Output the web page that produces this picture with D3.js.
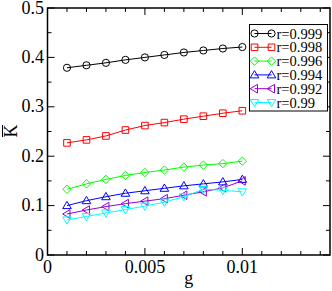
<!DOCTYPE html>
<html>
<head>
<meta charset="utf-8">
<script src="https://cdn.jsdelivr.net/npm/d3@7"></script>
<style>
  body { margin: 0; background: #fff; }
  svg text { font-family: "Liberation Serif", "Times New Roman", serif; }
</style>
</head>
<body>
<div id="chart"></div>
<script>
const width = 332, height = 291;

// data
const gValues = [0.001, 0.002, 0.003, 0.004, 0.005, 0.006, 0.007, 0.008, 0.009, 0.01];
const seriesNames = ["r=0.999", "r=0.998", "r=0.996", "r=0.994", "r=0.992", "r=0.99"];
const k999 = [0.379, 0.384, 0.389, 0.395, 0.400, 0.405, 0.410, 0.414, 0.418, 0.421];
const k998 = [0.227, 0.233, 0.241, 0.253, 0.262, 0.268, 0.275, 0.281, 0.287, 0.292];
const k996 = [0.133, 0.144, 0.153, 0.161, 0.167, 0.172, 0.178, 0.182, 0.185, 0.190];
const k994 = [0.100, 0.110, 0.118, 0.125, 0.130, 0.135, 0.140, 0.144, 0.148, 0.153];
const k992 = [0.083, 0.091, 0.098, 0.104, 0.109, 0.114, 0.121, 0.128, 0.136, 0.150];
const k990 = [0.071, 0.078, 0.085, 0.092, 0.099, 0.107, 0.118, 0.133, 0.131, 0.128];
const xTicks = [0, 0.005, 0.01];
const xTickLabels = ["0", "0.005", "0.01"];
const yTicks = [0, 0.1, 0.2, 0.3, 0.4, 0.5];
const yTickLabels = ["0", "0.1", "0.2", "0.3", "0.4", "0.5"];

const allSeries = [k999, k998, k996, k994, k992, k990];
const colors = ["#000000", "#ff0000", "#00ff00", "#0000ff", "#9400d3", "#00ffff"];
const shapes = ["circle", "square", "diamond", "up", "left", "down"];

const x0 = 47.5, x1 = 330, y0 = 255, y1 = 8;

const x = d3.scaleLinear().domain([0, 0.0145]).range([x0, x1]);
const y = d3.scaleLinear().domain([0, 0.5]).range([y0, y1]);

const svg = d3.select("#chart").append("svg")
  .attr("width", width)
  .attr("height", height);

// marker shapes
function marker(shape) {
  switch (shape) {
    case "circle": return d3.symbol().type(d3.symbolCircle).size(Math.PI * 3.6 * 3.6)();
    case "square": return "M-3.3,-3.3H3.3V3.3H-3.3Z";
    case "diamond": return "M0,-4.2L4.2,0L0,4.2L-4.2,0Z";
    case "up": return "M0,-4.3L4.3,3L-4.3,3Z";
    case "down": return "M0,4.3L4.3,-3L-4.3,-3Z";
    case "left": return "M-4.3,0L3,-4.3L3,4.3Z";
  }
}

// data lines + markers
const line = d3.line().x((d, i) => x(gValues[i])).y(d => y(d));

allSeries.forEach((vals, si) => {
  const g = svg.append("g");
  g.append("path")
    .attr("d", line(vals))
    .attr("fill", "none")
    .attr("stroke", colors[si])
    .attr("stroke-width", 1);
  g.selectAll("path.pt")
    .data(vals)
    .enter()
    .append("path")
    .attr("class", "pt")
    .attr("transform", (d, i) => `translate(${x(gValues[i])},${y(d)})`)
    .attr("d", marker(shapes[si]))
    .attr("fill", "none")
    .attr("stroke", colors[si])
    .attr("stroke-width", 1);
});

// frame
svg.append("rect")
  .attr("x", x0).attr("y", y1)
  .attr("width", x1 - x0).attr("height", y0 - y1)
  .attr("fill", "none")
  .attr("stroke", "#000")
  .attr("stroke-width", 1.5);

// ticks (inward, all four sides)
const xMinor = d3.range(0, 0.01451, 0.001);
const yMinor = d3.range(0, 0.501, 0.05);
const ticks = svg.append("g").attr("stroke", "#000").attr("stroke-width", 1);

xMinor.forEach((v, i) => {
  const len = (i % 5 === 0) ? 7 : 4;
  const px = x(v);
  ticks.append("line").attr("x1", px).attr("x2", px).attr("y1", y0).attr("y2", y0 - len);
  ticks.append("line").attr("x1", px).attr("x2", px).attr("y1", y1).attr("y2", y1 + len);
});
yMinor.forEach((v, i) => {
  const len = (i % 2 === 0) ? 7 : 4;
  const py = y(v);
  ticks.append("line").attr("x1", x0).attr("x2", x0 + len).attr("y1", py).attr("y2", py);
  ticks.append("line").attr("x1", x1).attr("x2", x1 - len).attr("y1", py).attr("y2", py);
});

// tick labels
svg.selectAll("text.xt")
  .data(xTicks)
  .enter()
  .append("text")
  .attr("class", "xt")
  .attr("x", d => x(d))
  .attr("y", 273)
  .attr("text-anchor", "middle")
  .attr("font-size", 18)
  .text((d, i) => xTickLabels[i]);

svg.selectAll("text.yt")
  .data(yTicks)
  .enter()
  .append("text")
  .attr("class", "yt")
  .attr("x", 44)
  .attr("y", d => y(d) + 5.5)
  .attr("text-anchor", "end")
  .attr("font-size", 18)
  .text((d, i) => yTickLabels[i]);

// axis labels
svg.append("text")
  .attr("x", (x0 + x1) / 2)
  .attr("y", 284)
  .attr("text-anchor", "middle")
  .attr("font-size", 18)
  .text("g");

const yl = svg.append("g").attr("transform", "translate(17,131) rotate(-90)");
yl.append("text")
  .attr("x", 0).attr("y", 0)
  .attr("text-anchor", "middle")
  .attr("font-size", 18)
  .text("K");
yl.append("line")
  .attr("x1", -6).attr("x2", 6)
  .attr("y1", -14.5).attr("y2", -14.5)
  .attr("stroke", "#000").attr("stroke-width", 1);

// legend
const lx = 249.5, ly = 24.5, lw = 78, lh = 86.5, rowH = 13.8;
svg.append("rect")
  .attr("x", lx).attr("y", ly)
  .attr("width", lw).attr("height", lh)
  .attr("fill", "#fff")
  .attr("stroke", "#000")
  .attr("stroke-width", 1);

seriesNames.forEach((name, si) => {
  const cy = 33.5 + si * rowH;
  const g = svg.append("g");
  g.append("line")
    .attr("x1", 254.5).attr("x2", 271.5)
    .attr("y1", cy).attr("y2", cy)
    .attr("stroke", colors[si]).attr("stroke-width", 1);
  [254.5, 271.5].forEach(px => {
    g.append("path")
      .attr("transform", `translate(${px},${cy})`)
      .attr("d", marker(shapes[si]))
      .attr("fill", "none")
      .attr("stroke", colors[si]);
  });
  g.append("text")
    .attr("x", 276.5)
    .attr("y", cy + 5)
    .attr("font-size", 14.5)
    .text(name);
});
</script>
</body>
</html>
